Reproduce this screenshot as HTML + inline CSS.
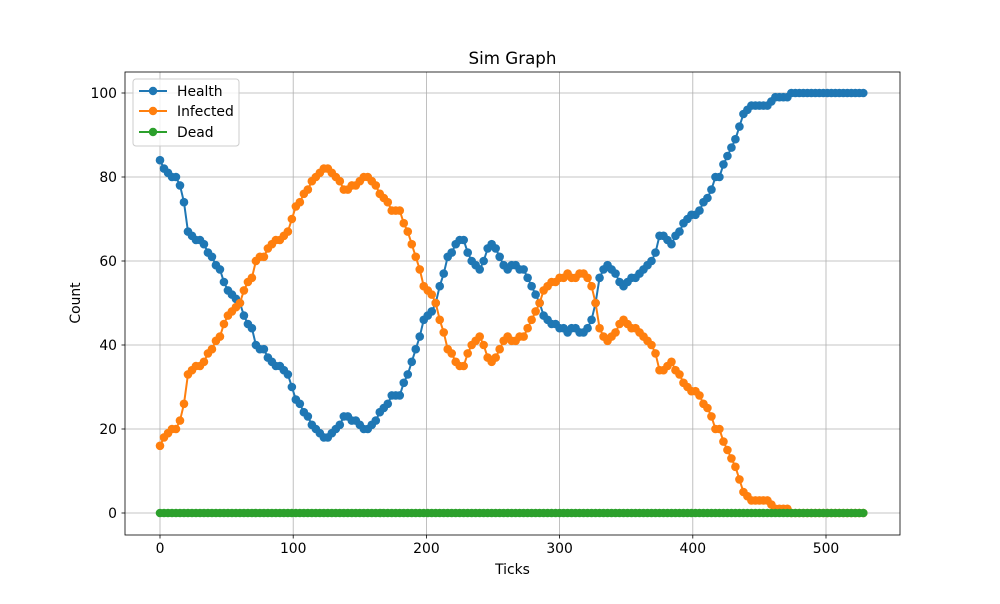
<!DOCTYPE html>
<html><head><meta charset="utf-8"><style>
body{margin:0;background:#fff;font-family:"DejaVu Sans","Liberation Sans",sans-serif;}
svg text{font-family:"DejaVu Sans","Liberation Sans",sans-serif;}
</style></head><body>
<svg id="chart" width="1000" height="600" xmlns="http://www.w3.org/2000/svg">
<rect width="1000" height="600" fill="#fff"/>
<g id="grid"></g>
<g id="series"></g>
<rect x="125" y="72" width="775" height="463" fill="none" stroke="#000" stroke-width="0.8"/>
<g id="axes"></g>
<text x="512.5" y="64" font-size="16.7" text-anchor="middle">Sim Graph</text>
<text x="512.5" y="574" font-size="13.9" text-anchor="middle">Ticks</text>
<text transform="translate(80,303) rotate(-90)" font-size="13.9" text-anchor="middle">Count</text>
<g>
<rect x="133" y="79" width="106" height="67" rx="3" fill="#fff" fill-opacity="0.8" stroke="#ccc"/>
<g><line x1="139" y1="91" x2="167" y2="91" stroke="#1f77b4" stroke-width="2"/><circle cx="153" cy="91" r="4.2" fill="#1f77b4"/><text x="177" y="96" font-size="13.9">Health</text></g>
<g><line x1="139" y1="111" x2="167" y2="111" stroke="#ff7f0e" stroke-width="2"/><circle cx="153" cy="111" r="4.2" fill="#ff7f0e"/><text x="177" y="116" font-size="13.9">Infected</text></g>
<g><line x1="139" y1="132" x2="167" y2="132" stroke="#2ca02c" stroke-width="2"/><circle cx="153" cy="132" r="4.2" fill="#2ca02c"/><text x="177" y="137" font-size="13.9">Dead</text></g>
</g>
</svg>
<script>
const tickStep = 3;
const health = [84,82,81,80,80,78,74,67,66,65,65,64,62,61,59,58,55,53,52,51,50,47,45,44,40,39,39,37,36,35,35,34,33,30,27,26,24,23,21,20,19,18,18,19,20,21,23,23,22,22,21,20,20,21,22,24,25,26,28,28,28,31,33,36,39,42,46,47,48,50,54,57,61,62,64,65,65,62,60,59,58,60,63,64,63,61,59,58,59,59,58,58,56,54,52,50,47,46,45,45,44,44,43,44,44,43,43,44,46,50,56,58,59,58,57,55,54,55,56,56,57,58,59,60,62,66,66,65,64,66,67,69,70,71,71,72,74,75,77,80,80,83,85,87,89,92,95,96,97,97,97,97,97,98,99,99,99,99,100,100,100,100,100,100,100,100,100,100,100,100,100,100,100,100,100,100,100];
const infected = [16,18,19,20,20,22,26,33,34,35,35,36,38,39,41,42,45,47,48,49,50,53,55,56,60,61,61,63,64,65,65,66,67,70,73,74,76,77,79,80,81,82,82,81,80,79,77,77,78,78,79,80,80,79,78,76,75,74,72,72,72,69,67,64,61,58,54,53,52,50,46,43,39,38,36,35,35,38,40,41,42,40,37,36,37,39,41,42,41,41,42,42,44,46,48,50,53,54,55,55,56,56,57,56,56,57,57,56,54,50,44,42,41,42,43,45,46,45,44,44,43,42,41,40,38,34,34,35,36,34,33,31,30,29,29,28,26,25,23,20,20,17,15,13,11,8,5,4,3,3,3,3,3,2,1,1,1,1,0,0,0,0,0,0,0,0,0,0,0,0,0,0,0,0,0,0,0];
const dead = health.map(()=>0);
const xTicks = [0,100,200,300,400,500];
const yTicks = [0,20,40,60,80,100];
const xs = v => 160 + v*(826-160)/500;
const ys = v => 513 - v*4.2;
const NS="http://www.w3.org/2000/svg";
const grid=document.getElementById('grid'), axes=document.getElementById('axes'), ser=document.getElementById('series');
function mk(tag,attrs,parent){const e=document.createElementNS(NS,tag);for(const k in attrs)e.setAttribute(k,attrs[k]);parent.appendChild(e);return e;}
xTicks.forEach(t=>{
  const gl=mk('line',{x1:xs(t),x2:xs(t),y1:72,y2:535,stroke:'#b0b0b0','stroke-width':0.8},grid);
  
  
  mk('line',{x1:xs(t),x2:xs(t),y1:535,y2:538.5,stroke:'#000','stroke-width':0.8},axes);
  const tx=mk('text',{x:xs(t),y:553,'font-size':13.9,'text-anchor':'middle'},axes);
  tx.textContent=t;
  
  
});
yTicks.forEach(t=>{
  const gl=mk('line',{x1:125,x2:900,y1:ys(t),y2:ys(t),stroke:'#b0b0b0','stroke-width':0.8},grid);
  
  
  mk('line',{x1:121.5,x2:125,y1:ys(t),y2:ys(t),stroke:'#000','stroke-width':0.8},axes);
  const tx=mk('text',{x:117,y:ys(t)+5,'font-size':13.9,'text-anchor':'end'},axes);
  tx.textContent=t;
  
  
});
function draw(arr,color,name){
  const g=mk('g',{},ser);
  
  
  const pts=arr.map((v,i)=>xs(i*tickStep)+','+ys(v)).join(' ');
  mk('polyline',{points:pts,fill:'none',stroke:color,'stroke-width':2},g);
  arr.forEach((v,i)=>{
    const c=mk('circle',{cx:xs(i*tickStep),cy:ys(v),r:4.3,fill:color},g);
    
    
  });
}
draw(health,'#1f77b4','health-series');
draw(infected,'#ff7f0e','infected-series');
draw(dead,'#2ca02c','dead-series');
</script>
</body></html>
